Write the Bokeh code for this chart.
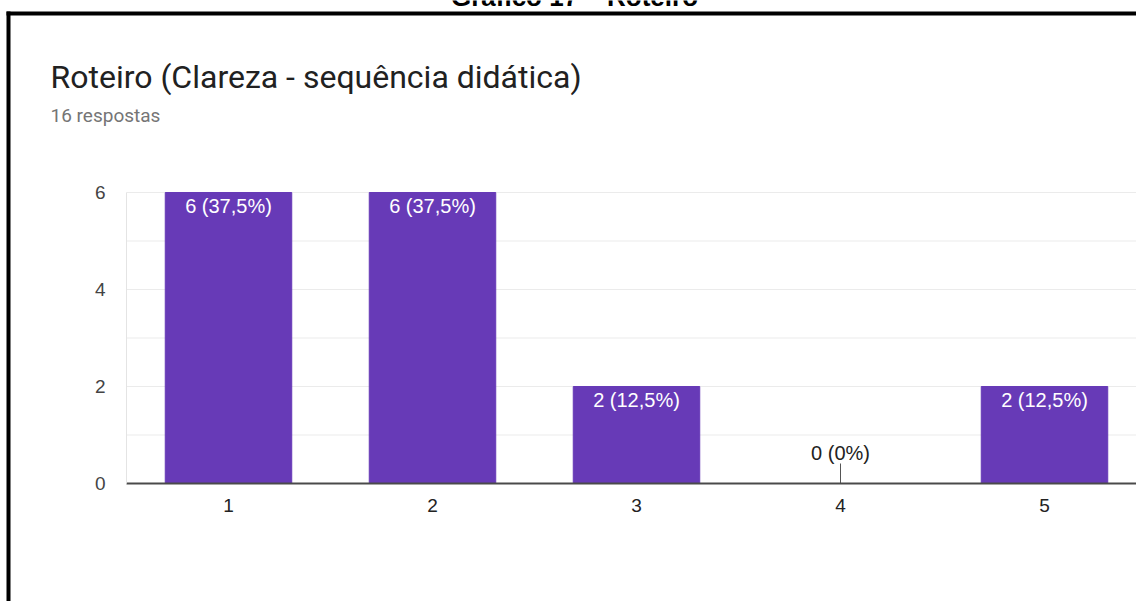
from bokeh.plotting import figure
from bokeh.models import (Range1d, FixedTicker, Label, BoxAnnotation,
                          ColumnDataSource, LinearAxis)
from bokeh.core.properties import value
from bokeh.embed import file_html
from bokeh.resources import INLINE

# Survey data
categories = ["1", "2", "3", "4", "5"]
counts = [6, 6, 2, 0, 2]
y_ticks = [0, 2, 4, 6]
grid_steps = [1, 2, 3, 4, 5, 6]
caption = "Gráfico 17 – Roteiro"
title = "Roteiro (Clareza - sequência didática)"
subtitle = "16 respostas"

total = sum(counts)
xs = list(range(1, len(categories) + 1))


def pct_label(v):
    pct = v * 100 / total
    txt = f"{pct:.1f}".rstrip("0").rstrip(".").replace(".", ",")
    return f"{v} ({txt}%)"


labels = [pct_label(v) for v in counts]

# Canvas geometry: the frame covers the whole page; the chart area is placed
# through the ranges (px per unit and the pixel position of the origin).
W, H = 1136, 601
PX_X, X1_PX = 204.0, 228.0   # px per category, canvas x of category 1
PX_Y, Y0_PX = 48.5, 483.0    # px per count, canvas y of the baseline

x_start = 1 - X1_PX / PX_X
x_end = x_start + W / PX_X
y_start = -(H - Y0_PX) / PX_Y
y_end = Y0_PX / PX_Y
x_lo = xs[0] - 0.5            # left edge of the chart area

p = figure(width=W, height=H, output_backend="svg", toolbar_location=None,
           x_range=Range1d(x_start, x_end), y_range=Range1d(y_start, y_end),
           x_axis_location=None, y_axis_location=None,
           min_border=0, min_border_left=0, min_border_right=0,
           min_border_top=0, min_border_bottom=0)
p.title.visible = False
p.outline_line_color = None
p.background_fill_color = "white"
p.border_fill_color = "white"
p.xgrid.visible = False
p.ygrid.visible = False

chart_font = "Liberation Sans"
FS = "19px"

# horizontal grid lines across the chart area
p.segment(x0=[x_lo] * len(grid_steps), x1=[x_end] * len(grid_steps),
          y0=grid_steps, y1=grid_steps, line_color="#ebebeb", line_width=1)

# axes, pinned to the chart area
yaxis = LinearAxis(fixed_location=x_lo, bounds=(0, max(y_ticks)),
                   ticker=FixedTicker(ticks=y_ticks))
yaxis.axis_line_color = "#e4e4e4"
yaxis.major_tick_line_color = None
yaxis.minor_tick_line_color = None
yaxis.major_label_standoff = 15
yaxis.major_label_text_font = chart_font
yaxis.major_label_text_font_size = FS
yaxis.major_label_text_color = "#444444"
p.add_layout(yaxis, "left")

xaxis = LinearAxis(fixed_location=0, bounds=(x_lo, x_end),
                   ticker=FixedTicker(ticks=xs))
xaxis.major_label_overrides = {x: c for x, c in zip(xs, categories)}
xaxis.axis_line_color = "#4a4a4a"
xaxis.axis_line_width = 2
xaxis.major_tick_line_color = None
xaxis.minor_tick_line_color = None
xaxis.major_label_standoff = 9
xaxis.major_label_text_font = chart_font
xaxis.major_label_text_font_size = FS
xaxis.major_label_text_color = "#222222"
p.add_layout(xaxis, "below")

# bars
src = ColumnDataSource(dict(x=xs, top=counts, label=labels))
p.vbar(x="x", top="top", width=0.62, bottom=0, source=src,
       fill_color="#673ab7", line_color="#673ab7")

pos = [i for i, v in enumerate(counts) if v > 0]
zero = [i for i, v in enumerate(counts) if v == 0]

in_src = ColumnDataSource(dict(x=[xs[i] for i in pos], y=[counts[i] for i in pos],
                               label=[labels[i] for i in pos]))
p.text(x="x", y="y", text="label", source=in_src, text_align="center",
       text_baseline="top", y_offset=2, text_color="#ffffff",
       text_font=value(chart_font), text_font_size="20px")

z_src = ColumnDataSource(dict(x=[xs[i] for i in zero], y=[counts[i] for i in zero],
                              label=[labels[i] for i in zero]))
p.ray(x="x", y="y", length=20, length_units="screen", angle=90,
      angle_units="deg", source=z_src, line_color="#555555", line_width=1)
p.text(x="x", y="y", text="label", source=z_src, text_align="center",
       text_baseline="bottom", y_offset=-20, text_color="#222222",
       text_font=value(chart_font), text_font_size="20px")


# page texts, positioned in canvas pixels from the top-left corner
def page_label(x, y, text, **kw):
    p.add_layout(Label(x=x, y=H - y, x_units="screen", y_units="screen",
                       text=text, **kw))


page_label(574, -4, caption, text_font="Liberation Sans", text_font_style="bold",
           text_font_size="26px", text_color="#000000", text_align="center",
           text_baseline="alphabetic")
page_label(50, 76, title, text_font="Roboto", text_font_size="32px",
           text_color="#212121", text_baseline="alphabetic")
page_label(50, 115, subtitle, text_font="Roboto", text_font_size="19px",
           text_color="#757575", text_baseline="alphabetic")


# page frame lines (left and top edges)
def page_box(left, right, top, bottom):
    p.add_layout(BoxAnnotation(left=left, right=right, top=H - top, bottom=H - bottom,
                               left_units="screen", right_units="screen",
                               top_units="screen", bottom_units="screen",
                               fill_color="black", fill_alpha=1, line_color=None,
                               line_alpha=0))


page_box(6, 10, 11, H + 20)
page_box(6, W + 20, 11, 15)

open("out.html", "w").write(file_html(p, INLINE))
